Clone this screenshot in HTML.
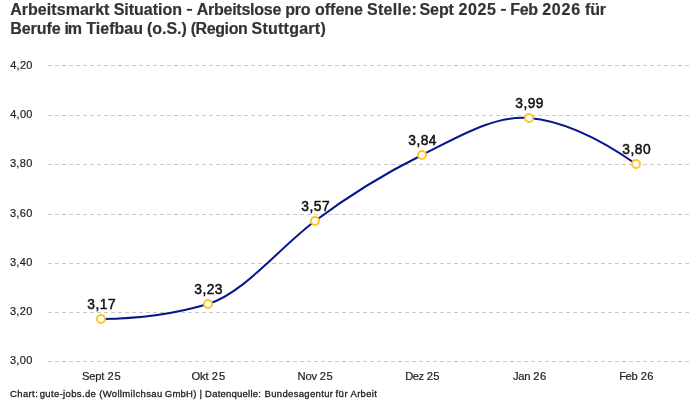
<!DOCTYPE html>
<html lang="de">
<head>
<meta charset="utf-8">
<title>Arbeitsmarkt Situation</title>
<style>
html,body{margin:0;padding:0;background:#fff;}
body{width:700px;height:400px;position:relative;overflow:hidden;font-family:"Liberation Sans",sans-serif;}
#wrap{position:absolute;left:0;top:0;width:700px;height:400px;will-change:transform;}
svg{position:absolute;left:0;top:0;display:block;}
text{font-family:"Liberation Sans",sans-serif;white-space:pre;}
.title text{font-weight:bold;font-size:16px;fill:#333;stroke:#333;stroke-width:0.2px;}
.ylab text{font-size:11px;fill:#222;stroke:#222;stroke-width:0.2px;}
.xlab text{font-size:11.2px;fill:#222;stroke:#222;stroke-width:0.2px;}
.vlab text{font-size:13.8px;fill:#111;stroke:#111;stroke-width:0.5px;}
.foot text{font-size:9.5px;fill:#222;stroke:#222;stroke-width:0.3px;}
</style>
</head>
<body>
<div id="wrap">
<svg width="700" height="400" viewBox="0 0 700 400">
  <g class="title">
    <text x="10.16" y="14.8" style="letter-spacing:0.05px">Arbeitsmarkt</text>
    <text x="113.73" y="14.8" style="letter-spacing:-0.02px">Situation</text>
    <text x="196.66" y="14.8" style="letter-spacing:-0.24px">Arbeitslose</text>
    <text x="285.25" y="14.8" style="letter-spacing:-0.29px">pro</text>
    <text x="315.03" y="14.8">offene</text>
    <text x="366.99" y="14.8" style="letter-spacing:0.29px">Stelle:</text>
    <text x="419.49" y="14.8" style="letter-spacing:-0.08px">Sept</text>
    <text x="458.39" y="14.8" style="letter-spacing:0.63px">2025</text>
    <text x="510.30" y="14.8" style="letter-spacing:-0.40px">Feb</text>
    <text x="542.14" y="14.8" style="letter-spacing:0.78px">2026</text>
    <text x="584.92" y="14.8" style="letter-spacing:-0.09px">für</text>
    <text x="10.25" y="33.6" style="letter-spacing:-0.05px">Berufe</text>
    <text x="64.50" y="33.6" style="letter-spacing:-1.19px">im</text>
    <text x="86.25" y="33.6" style="letter-spacing:0.02px">Tiefbau</text>
    <text x="146.90" y="33.6" style="letter-spacing:-0.02px">(o.S.)</text>
    <text x="190.65" y="33.6" style="letter-spacing:-0.40px">(Region</text>
    <text x="251.49" y="33.6" style="letter-spacing:0.25px">Stuttgart)</text>
    <rect x="186.9" y="8.9" width="5.1" height="1.85" fill="#333"/>
    <rect x="500.9" y="8.9" width="5.1" height="1.85" fill="#333"/>
  </g>
  <g stroke="#c9c9c9" stroke-width="1" stroke-dasharray="4,3" shape-rendering="crispEdges">
    <line x1="48" x2="690" y1="65.5" y2="65.5"/>
    <line x1="48" x2="690" y1="115.5" y2="115.5"/>
    <line x1="48" x2="690" y1="164.5" y2="164.5"/>
    <line x1="48" x2="690" y1="214.5" y2="214.5"/>
    <line x1="48" x2="690" y1="263.5" y2="263.5"/>
    <line x1="48" x2="690" y1="312.5" y2="312.5"/>
    <line x1="48" x2="690" y1="361.5" y2="361.5"/>
  </g>
  <g class="ylab">
    <text x="10.28" y="69" style="letter-spacing:0.24px">4,20</text>
    <text x="10.28" y="118" style="letter-spacing:0.24px">4,00</text>
    <text x="9.89" y="167" style="letter-spacing:0.37px">3,80</text>
    <text x="9.89" y="217" style="letter-spacing:0.37px">3,60</text>
    <text x="9.89" y="266" style="letter-spacing:0.37px">3,40</text>
    <text x="9.89" y="315" style="letter-spacing:0.37px">3,20</text>
    <text x="9.89" y="364" style="letter-spacing:0.37px">3,00</text>
  </g>
  <g class="xlab">
    <text x="82.09" y="380" style="letter-spacing:-0.27px">Sept</text>
    <text x="107.54" y="380" style="letter-spacing:0.76px">25</text>
    <text x="191.55" y="380" style="letter-spacing:-0.16px">Okt</text>
    <text x="211.74" y="380" style="letter-spacing:0.96px">25</text>
    <text x="297.58" y="380" style="letter-spacing:-0.17px">Nov</text>
    <text x="319.64" y="380" style="letter-spacing:0.66px">25</text>
    <text x="405.18" y="380" style="letter-spacing:-0.43px">Dez</text>
    <text x="426.64" y="380" style="letter-spacing:0.46px">25</text>
    <text x="512.88" y="380" style="letter-spacing:-0.18px">Jan</text>
    <text x="533.34" y="380" style="letter-spacing:0.36px">26</text>
    <text x="619.18" y="380" style="letter-spacing:-0.40px">Feb</text>
    <text x="640.64" y="380" style="letter-spacing:0.46px">26</text>
  </g>
  <path fill="none" stroke="#06178c" stroke-width="2" stroke-linejoin="round" stroke-linecap="butt"
    d="M101,319C136.67,318.75,172.33,314.74,208,304C243.67,293.26,279.33,247.79,315,221C350.67,194.21,386.33,172.76,422,155C457.67,137.24,493.33,115.18,529,118C564.67,120.82,600.33,139.14,636,164"/>
  <g fill="#fff" stroke="#ffc524" stroke-width="2">
    <circle cx="101" cy="319" r="4"/>
    <circle cx="208" cy="304" r="4"/>
    <circle cx="315" cy="221" r="4"/>
    <circle cx="422" cy="155" r="4"/>
    <circle cx="529" cy="118" r="4"/>
    <circle cx="636" cy="164" r="4"/>
  </g>
  <g class="vlab">
    <text x="87.34" y="308.7" style="letter-spacing:0.48px">3,17</text>
    <text x="194.34" y="293.5" style="letter-spacing:0.45px">3,23</text>
    <text x="301.34" y="210.5" style="letter-spacing:0.51px">3,57</text>
    <text x="408.34" y="144.5" style="letter-spacing:0.43px">3,84</text>
    <text x="515.34" y="107.5" style="letter-spacing:0.45px">3,99</text>
    <text x="622.34" y="153.5" style="letter-spacing:0.49px">3,80</text>
  </g>
  <g class="foot">
    <text x="10.06" y="397" style="letter-spacing:0.37px">Chart:</text>
    <text x="39.73" y="397" style="letter-spacing:0.35px">gute-jobs.de</text>
    <text x="99.17" y="397" style="letter-spacing:0.34px">(Wollmilchsau</text>
    <text x="164.85" y="397" style="letter-spacing:0.22px">GmbH)</text>
    <text x="199.47" y="397">|</text>
    <text x="205.05" y="397" style="letter-spacing:0.23px">Datenquelle:</text>
    <text x="264.55" y="397" style="letter-spacing:0.33px">Bundesagentur</text>
    <text x="335.44" y="397" style="letter-spacing:0.53px">für</text>
    <text x="350.50" y="397" style="letter-spacing:0.31px">Arbeit</text>
  </g>
</svg>
</div>
</body>
</html>
